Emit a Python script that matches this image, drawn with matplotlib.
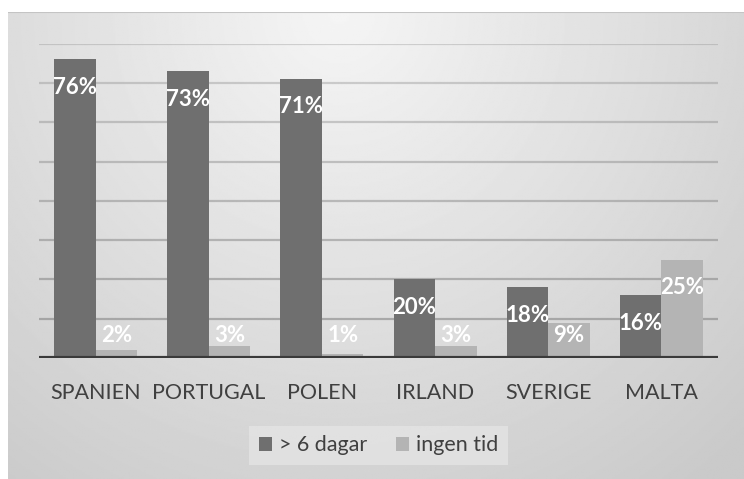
import numpy as np
import matplotlib.pyplot as plt

# survey shares per country
countries = ['SPANIEN', 'PORTUGAL', 'POLEN', 'IRLAND', 'SVERIGE', 'MALTA']
over_6_dagar = [76, 73, 71, 20, 18, 16]
ingen_tid = [2, 3, 1, 3, 9, 25]
series_names = ['> 6 dagar', 'ingen tid']

DARK = '#6f6f6f'
LIGHT = '#b4b4b4'
TEXT = '#404040'

plt.rcParams['font.family'] = ['Lato', 'DejaVu Sans']

W, H = 744, 479
fig = plt.figure(figsize=(W / 100, H / 100), dpi=100)
fig.patch.set_facecolor('white')

# gray radial backdrop of the chart area
bg = fig.add_axes([8 / W, 0, 1 - 8 / W, 1 - 12 / H])
bg.set_axis_off()
yy, xx = np.mgrid[0:1:300j, 0:1:500j]
d = np.sqrt(((xx - 0.45) / 0.75) ** 2 + (yy / 1.2) ** 2)
shade = np.clip(0.96 - 0.16 * d, 0.79, 0.96)
bg.imshow(shade, cmap='gray', vmin=0, vmax=1, aspect='auto', origin='upper',
          extent=[0, 1, 0, 1])
bg.plot([0, 1], [1, 1], color='#c4c4c4', lw=1.5, transform=bg.transAxes)

ax = fig.add_axes([39 / W, (H - 358) / H, 679 / W, 314.4 / H])
ax.patch.set_alpha(0)
x = np.arange(len(countries))
bw = 0.367

ax.set_xlim(-0.5, len(countries) - 0.5)
ax.set_ylim(0, 80)
for g in range(10, 81, 10):
    # lines fade towards the top like the backdrop
    ax.axhline(g, color='#808080', lw=1.6, alpha=0.6 - 0.3 * g / 80, zorder=1)

b1 = ax.bar(x - bw / 2, over_6_dagar, bw, color=DARK, zorder=2, label=series_names[0])
b2 = ax.bar(x + bw / 2, ingen_tid, bw, color=LIGHT, zorder=2, label=series_names[1])
ax.axhline(0, color='#3a3a3a', lw=3, zorder=3)

# value labels near the top of each bar, kept above the floor for small bars
for bars, vals in ((b1, over_6_dagar), (b2, ingen_tid)):
    for rect, v in zip(bars, vals):
        ty = max(v - 7.1, 5.6)
        ax.text(rect.get_x() + rect.get_width() / 2, ty, f'{v}%', ha='center', va='center',
                color='white', fontsize=16, fontweight='bold', zorder=4)

ax.set_xticks(x)
ax.set_xticklabels(countries, fontsize=15.5, color=TEXT)
ax.tick_params(axis='x', length=0, pad=18)
ax.set_yticks([])
for s in ax.spines.values():
    s.set_visible(False)

leg = fig.legend(handles=[b1, b2], loc='center', bbox_to_anchor=(0.509, 0.07), ncol=2,
                 fontsize=15.5, frameon=True, fancybox=False, handlelength=0.6,
                 handleheight=0.6, handletextpad=0.35, columnspacing=1.3,
                 borderpad=0.45, labelcolor=TEXT)
leg.get_frame().set_facecolor('#e4e4e4')
leg.get_frame().set_edgecolor('none')
leg.get_frame().set_alpha(0.8)

fig.savefig('out.png', dpi=100)
